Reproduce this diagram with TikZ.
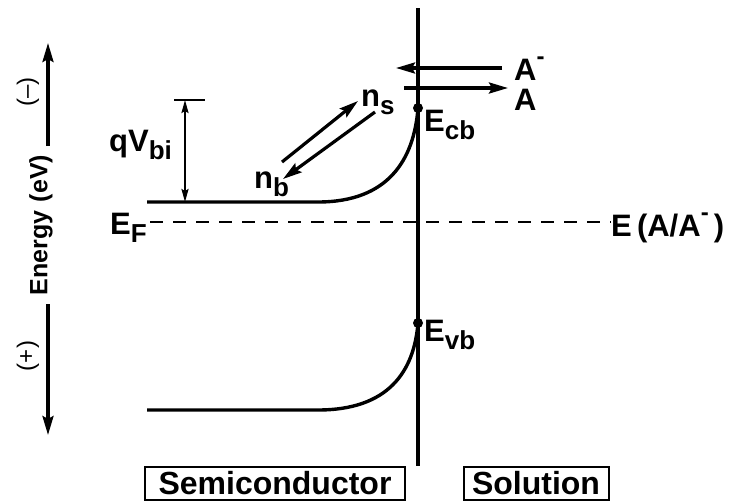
\documentclass[tikz,border=0pt]{standalone}
\usepackage{fontspec}
\setmainfont{Liberation Sans}
\usetikzlibrary{arrows.meta}
\newcommand{\lsub}[1]{\raisebox{-0.28em}{\fontsize{26}{26}\selectfont #1}}
\newcommand{\lsup}[1]{\raisebox{0.5em}{\fontsize{24}{24}\selectfont #1}}
\begin{document}
\begin{tikzpicture}[x=1pt,y=-1pt,
  lbl/.style={font=\fontsize{31}{33}\selectfont\bfseries, inner sep=0pt},
  band/.style={line width=3.4pt},
  iface/.style={line width=3.6pt},
  bigarr/.style={line width=3.2pt, -{Stealth[length=19pt,width=11pt,inset=3pt]}},
  smallarr/.style={line width=2pt, {Stealth[length=13pt,width=7pt,inset=2pt]}-{Stealth[length=13pt,width=7pt,inset=2pt]}},
  dot/.style={circle, fill=black, inner sep=0pt, minimum size=10pt},
  boxlbl/.style={draw, line width=2pt, font=\fontsize{32}{34}\selectfont\bfseries, inner sep=0pt, minimum height=33pt}]
\useasboundingbox (0,0) rectangle (737,501);

% energy axis
\coordinate (up0) at (48,146);
\coordinate (up1) at (48,43);
\coordinate (dn0) at (48,304);
\coordinate (dn1) at (48,435);
\draw[bigarr] (up0) -- (up1);
\draw[bigarr] (dn0) -- (dn1);
\node[lbl, font=\fontsize{25}{27}\selectfont\bfseries, rotate=90] (energy) at (41,225) {Energy\,\,(eV)};
\node[font=\fontsize{24}{24}\selectfont, rotate=90, inner sep=0pt] (minus) at (28,92) {(--)};
\node[font=\fontsize{24}{24}\selectfont, rotate=90, inner sep=0pt] (plus) at (28,356) {(+)};

% interface
\coordinate (itop) at (418,8);
\coordinate (ibot) at (418,466);
\draw[iface] (itop) -- (ibot);

% conduction band
\coordinate (cb0) at (147,202);
\coordinate (cb1) at (318,202);
\node[dot] (cbdot) at (418,108) {};
\draw[band] (cb0) -- (cb1) .. controls (388,202) and (414,160) .. (cbdot.center);
\node[lbl, anchor=base west] (ecb) at (424,131) {E\lsub{cb}};

% valence band
\coordinate (vb0) at (147,410);
\coordinate (vb1) at (318,410);
\node[dot] (vbdot) at (418,323) {};
\draw[band] (vb0) -- (vb1) .. controls (388,410) and (414,372) .. (vbdot.center);
\node[lbl, anchor=base west] (evb) at (424,341) {E\lsub{vb}};

% Fermi level
\node[lbl, anchor=base west] (ef) at (110,234) {E\lsub{F}};
\coordinate (ef0) at (150,222);
\node[lbl, anchor=base west] (eaa) at (611,236) {E\,(A/A\lsup{-}\,)};
\draw[line width=2.8pt, dash pattern=on 13pt off 10pt] (ef0) -- (eaa.west |- ef0);

% qVbi
\coordinate (qtop) at (185,100);
\coordinate (qbot) at (185,202);
\coordinate (qbarl) at (174,100);
\coordinate (qbarr) at (205,100);
\draw[line width=2.2pt] (qbarl) -- (qbarr);
\draw[smallarr] (qtop) -- (qbot);
\node[lbl, anchor=base west] (qv) at (109,151) {qV\lsub{bi}};

% ns / nb arrows
\coordinate (u0) at (282,162);
\coordinate (u1) at (358,101);
\coordinate (l0) at (375,112);
\coordinate (l1) at (283,179);
\draw[bigarr] (u0) -- (u1);
\draw[bigarr] (l0) -- (l1);
\node[lbl, anchor=base west] (ns) at (361,106) {n\lsub{s}};
\node[lbl, anchor=base west] (nb) at (254,188) {n\lsub{b}};

% A / A- arrows
\coordinate (am0) at (502,68);
\coordinate (am1) at (396,68);
\coordinate (a0) at (404,88);
\coordinate (a1) at (508,88);
\draw[bigarr] (am0) -- (am1);
\draw[bigarr] (a0) -- (a1);
\node[lbl, anchor=base west] (am) at (514,80) {A\lsup{-}};
\node[lbl, anchor=base west] (a) at (514,110) {A};

% boxes
\node[boxlbl, minimum width=260pt] (semi) at (275,483) {Semiconductor};
\node[boxlbl, minimum width=145pt] (sol) at (536,483) {Solution};
\end{tikzpicture}
\end{document}
